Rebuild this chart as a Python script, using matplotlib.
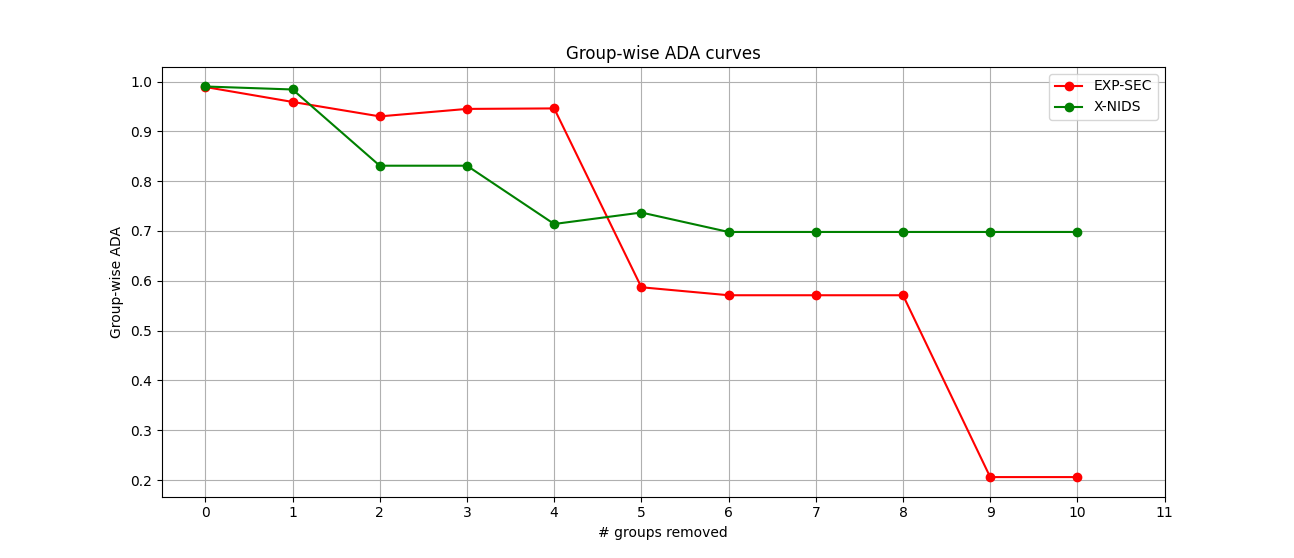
import matplotlib
matplotlib.use('Agg')
import matplotlib.pyplot as plt

groups_removed = list(range(11))
exp_sec = [0.989, 0.959, 0.930, 0.945, 0.946, 0.587, 0.571, 0.571, 0.571, 0.206, 0.206]
x_nids = [0.990, 0.984, 0.831, 0.831, 0.714, 0.737, 0.698, 0.698, 0.698, 0.698, 0.698]

fig, ax = plt.subplots(figsize=(12.94, 5.58), dpi=100)

ax.plot(groups_removed, exp_sec, marker='o', color='red', label='EXP-SEC')
ax.plot(groups_removed, x_nids, marker='o', color='green', label='X-NIDS')

ax.set_xticks(range(12))
ax.set_title('Group-wise ADA curves')
ax.set_xlabel('# groups removed')
ax.set_ylabel('Group-wise ADA')
ax.grid(True)
ax.legend(loc='upper right')

plt.savefig('out.png', dpi=100)
